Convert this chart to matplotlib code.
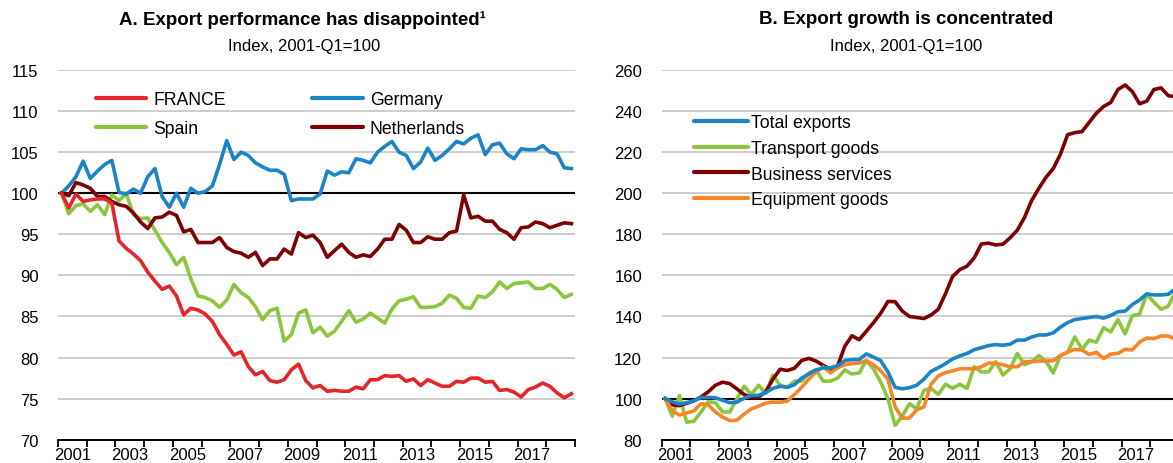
import matplotlib
matplotlib.use('Agg')
import matplotlib.pyplot as plt
from matplotlib.ticker import FixedLocator, NullFormatter

plt.rcParams['font.family'] = ['Liberation Sans', 'DejaVu Sans']

# ---------------- data (quarterly, 2001-Q1 .. 2018-Q4) ----------------
years = list(range(2001, 2019))
quarters = [f"{y}-Q{q}" for y in years for q in range(1, 5)]

france = [100.0, 98.2, 99.9, 99.0, 99.2, 99.3, 99.3, 98.8, 94.2, 93.3, 92.6, 91.8,
          90.4, 89.3, 88.3, 88.7, 87.5, 85.2, 86.0, 85.8, 85.3, 84.4, 82.8, 81.6,
          80.3, 80.7, 78.9, 77.9, 78.3, 77.2, 77.0, 77.3, 78.5, 79.2, 77.2, 76.3,
          76.6, 75.9, 76.0, 75.9, 75.9, 76.4, 76.2, 77.3, 77.3, 77.8, 77.7, 77.8,
          77.1, 77.4, 76.6, 77.3, 76.9, 76.5, 76.5, 77.1, 77.0, 77.5, 77.5, 77.0,
          77.1, 76.0, 76.1, 75.8, 75.2, 76.1, 76.4, 76.9, 76.5, 75.7, 75.1, 75.6]
germany = [100.0, 100.9, 102.0, 103.9, 101.8, 102.7, 103.5, 104.0, 100.1, 99.9, 100.5, 100.0,
           102.0, 103.0, 99.6, 98.3, 100.0, 98.3, 100.6, 100.0, 100.2, 100.9, 103.5, 106.4,
           104.1, 105.0, 104.6, 103.7, 103.2, 102.8, 102.8, 102.3, 99.1, 99.3, 99.3, 99.3,
           99.9, 102.7, 102.2, 102.6, 102.5, 104.2, 104.0, 103.7, 105.0, 105.7, 106.3, 105.0,
           104.6, 103.0, 103.8, 105.5, 104.0, 104.6, 105.4, 106.3, 106.0, 106.7, 107.1, 104.7,
           105.9, 106.1, 104.8, 104.2, 105.4, 105.3, 105.3, 105.8, 105.0, 104.8, 103.1, 103.0]
spain = [100.0, 97.5, 98.5, 98.7, 97.8, 98.6, 97.4, 99.8, 99.1, 100.0, 97.4, 96.9,
         97.0, 95.5, 94.0, 92.8, 91.3, 92.2, 89.6, 87.5, 87.3, 86.9, 86.1, 87.0,
         88.9, 87.9, 87.3, 86.2, 84.6, 85.7, 86.0, 82.0, 82.8, 85.4, 85.8, 83.0,
         83.7, 82.6, 83.2, 84.4, 85.7, 84.3, 84.7, 85.4, 84.8, 84.2, 85.9, 86.9,
         87.1, 87.4, 86.1, 86.1, 86.2, 86.6, 87.6, 87.2, 86.1, 86.0, 87.5, 87.3,
         88.0, 89.2, 88.4, 89.0, 89.1, 89.2, 88.4, 88.4, 88.9, 88.3, 87.3, 87.7]
netherlands = [100.0, 99.7, 101.3, 101.0, 100.6, 99.6, 99.6, 99.0, 98.6, 98.4, 97.6, 96.5,
               95.7, 97.0, 97.1, 97.7, 97.3, 95.3, 95.6, 94.0, 94.0, 94.0, 94.6, 93.4,
               92.9, 92.7, 92.2, 92.8, 91.2, 92.0, 92.0, 93.2, 92.6, 95.2, 94.6, 94.9,
               94.0, 92.2, 93.0, 93.8, 92.8, 92.2, 92.5, 92.3, 93.2, 94.4, 94.4, 96.2,
               95.5, 94.0, 94.0, 94.7, 94.4, 94.4, 95.2, 95.4, 99.8, 97.0, 97.2, 96.6,
               96.6, 95.6, 95.2, 94.4, 95.8, 95.9, 96.5, 96.3, 95.8, 96.1, 96.4, 96.3]

total_exports = [100.0, 98.5, 97.3, 98.0, 99.0, 100.5, 100.6, 100.4, 99.2, 98.0, 98.3, 100.2,
                 101.5, 101.6, 103.0, 105.0, 106.0, 105.5, 106.8, 110.0, 112.0, 114.0, 115.0, 115.0,
                 116.0, 118.5, 119.0, 119.0, 121.8, 120.2, 118.5, 113.0, 105.5, 104.8, 105.3, 106.5,
                 109.5, 113.3, 115.0, 117.0, 119.3, 120.8, 122.0, 123.8, 124.8, 125.8, 126.3, 126.0,
                 126.5, 128.5, 128.5, 130.0, 131.0, 131.0, 132.0, 134.8, 137.0, 138.5, 139.0, 139.5,
                 140.0, 139.2, 140.5, 142.3, 142.6, 145.8, 148.0, 151.0, 150.5, 150.5, 150.8, 153.5]
transport_goods = [100.0, 91.5, 101.5, 88.5, 89.0, 93.5, 98.5, 98.0, 93.5, 93.5, 100.0, 106.0,
                   102.0, 106.5, 102.5, 111.5, 106.5, 105.5, 108.5, 108.5, 112.5, 114.0, 108.5, 108.5,
                   110.0, 114.0, 112.0, 112.5, 118.5, 114.5, 108.0, 100.0, 87.0, 91.5, 97.5, 95.0,
                   104.0, 105.0, 102.0, 107.0, 105.0, 107.0, 105.0, 115.5, 113.0, 113.0, 118.0, 111.5,
                   114.5, 122.0, 116.5, 118.0, 121.0, 118.0, 112.5, 121.0, 122.5, 130.0, 124.0, 128.5,
                   127.5, 134.5, 132.5, 138.5, 131.5, 140.5, 141.0, 151.0, 147.0, 143.5, 145.0, 152.0]
business_services = [100.0, 97.0, 96.6, 97.7, 98.9, 100.8, 103.3, 106.5, 108.0, 107.3, 104.7, 102.0,
                     100.6, 100.8, 103.3, 109.5, 114.3, 113.7, 114.8, 118.6, 119.6, 118.3, 116.2, 114.3,
                     115.9, 125.5, 130.6, 128.7, 132.8, 137.0, 141.6, 147.3, 147.2, 142.6, 140.0, 139.5,
                     139.0, 140.7, 143.5, 151.0, 159.5, 162.8, 164.5, 168.5, 175.3, 175.7, 174.8, 175.2,
                     178.3, 182.0, 188.2, 196.5, 202.4, 207.8, 212.0, 219.0, 228.5, 229.5, 230.0, 234.5,
                     239.0, 242.2, 244.2, 250.5, 252.7, 249.5, 243.6, 244.8, 250.5, 251.3, 247.5, 247.0]
equipment_goods = [100.0, 94.0, 92.0, 93.0, 94.0, 97.5, 97.0, 93.5, 91.0, 89.3, 89.5, 92.5,
                   95.0, 96.3, 97.8, 98.3, 98.3, 98.8, 102.0, 105.5, 109.5, 113.0, 115.5, 112.5,
                   115.0, 116.5, 117.0, 117.3, 118.5, 116.5, 113.5, 109.5, 96.0, 90.5, 90.5, 94.5,
                   96.0, 107.0, 111.0, 112.7, 113.5, 114.5, 114.6, 114.5, 115.5, 117.3, 117.2, 116.5,
                   115.5, 115.5, 118.0, 118.0, 118.3, 118.3, 118.5, 121.0, 122.7, 124.0, 123.7, 121.5,
                   122.5, 119.5, 121.7, 122.0, 124.0, 123.7, 127.5, 129.5, 129.2, 130.5, 130.5, 129.0]

# ---------------- styles ----------------
RED = '#e4262b'
BLUE = '#1a84c7'
GREEN = '#8cc63f'
DARKRED = '#7f0000'
ORANGE = '#f6862a'
GRID = '#c9c9c9'
FS = 12
LFS = 12.7

x = [int(q[:4]) + (int(q[-1]) - 1 + 0.5) / 4 for q in quarters]

W, H = 1173, 464
fig = plt.figure(figsize=(W / 100, H / 100), dpi=100)
bot = (H - 440.7) / H
hgt = (440.7 - 71) / H
axL = fig.add_axes([58 / W, bot, (575 - 58) / W, hgt])
axR = fig.add_axes([661.5 / W, bot, (W - 661.5) / W, hgt])


def style(ax, xmax, ymin, ymax, ystep, year_ticks):
    ax.set_xlim(2001, xmax)
    ax.set_ylim(ymin, ymax)
    ax.set_yticks(list(range(ymin, ymax + 1, ystep)))
    ax.yaxis.grid(True, color=GRID, lw=1.3)
    ax.set_axisbelow(True)
    for s in ['left', 'right', 'top']:
        ax.spines[s].set_visible(False)
    ax.spines['bottom'].set_color('black')
    ax.spines['bottom'].set_linewidth(1.4)
    ax.spines['bottom'].set_zorder(5)
    ax.xaxis.set_major_locator(FixedLocator(year_ticks))
    ax.xaxis.set_major_formatter(NullFormatter())
    lab = [y for y in years if y % 2 == 1]
    ax.xaxis.set_minor_locator(FixedLocator([y + 0.5 for y in lab]))
    ax.set_xticklabels([str(y) for y in lab], minor=True)
    ax.tick_params(axis='x', which='major', length=5, width=1.3, direction='out', color='black')
    ax.tick_params(axis='x', which='minor', length=0, pad=5, labelsize=FS)
    ax.tick_params(axis='y', length=0, pad=14, labelsize=FS)
    ax.axhline(100, color='black', lw=1.5, zorder=2)


style(axL, 2019, 70, 115, 5, list(range(2001, 2020)))
style(axR, 2018.79, 80, 260, 20, list(range(2001, 2019)))

lw = 2.6
axL.plot(x, france, color=RED, lw=lw, label='FRANCE', zorder=4)
axL.plot(x, spain, color=GREEN, lw=lw, label='Spain', zorder=3)
axL.plot(x, germany, color=BLUE, lw=lw, label='Germany', zorder=3)
axL.plot(x, netherlands, color=DARKRED, lw=lw, label='Netherlands', zorder=3)
legL = axL.legend(ncol=2, frameon=False, loc='upper left', bbox_to_anchor=(0.06, 0.963),
                  fontsize=LFS, handlelength=2.85, handletextpad=0.4, columnspacing=4.9,
                  labelspacing=0.72, borderaxespad=0)
for h in legL.get_lines():
    h.set_solid_capstyle('round')
    h.set_linewidth(3)

axR.plot(x, total_exports, color=BLUE, lw=lw, label='Total exports', zorder=4)
axR.plot(x, transport_goods, color=GREEN, lw=lw, label='Transport goods', zorder=3)
axR.plot(x, business_services, color=DARKRED, lw=lw, label='Business services', zorder=3)
axR.plot(x, equipment_goods, color=ORANGE, lw=lw, label='Equipment goods', zorder=3)
legR = axR.legend(ncol=1, frameon=False, loc='upper left', bbox_to_anchor=(0.05, 0.9),
                  fontsize=LFS, handlelength=3.05, handletextpad=0.2,
                  labelspacing=0.5, borderaxespad=0)
for h in legR.get_lines():
    h.set_solid_capstyle('round')
    h.set_linewidth(3)

fig.text(302 / W, 1 - 20 / H, 'A. Export performance has disappointed\u00b9', ha='center', va='center',
         fontsize=13.5, fontweight='bold')
fig.text(304 / W, 1 - 47 / H, 'Index, 2001-Q1=100', ha='center', va='center', fontsize=FS)
fig.text(906 / W, 1 - 20 / H, 'B. Export growth is concentrated', ha='center', va='center',
         fontsize=13.5, fontweight='bold')
fig.text(906 / W, 1 - 47 / H, 'Index, 2001-Q1=100', ha='center', va='center', fontsize=FS)

fig.savefig('out.png', dpi=100)
